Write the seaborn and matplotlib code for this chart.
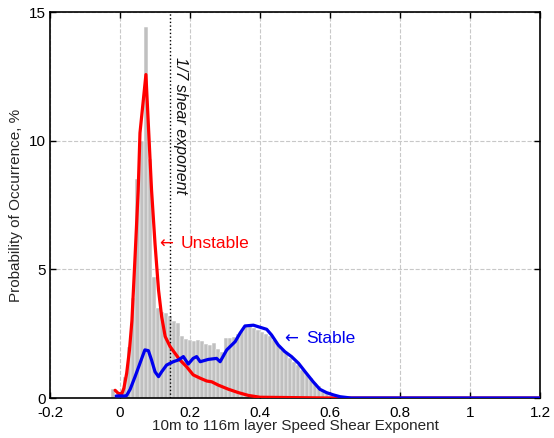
import numpy as np
import pandas as pd
import matplotlib
matplotlib.use("Agg")
import matplotlib.pyplot as plt
import seaborn as sns

# === Data ===
hist_heights = [0.35, 0.1, 0.2, 0.8, 2.0, 3.9, 8.5, 10.0, 14.4, 9.3,
                4.7, 3.5, 3.35, 3.3, 3.2, 3.0, 2.9, 2.4, 2.3, 2.25,
                2.2, 2.25, 2.2, 2.1, 2.05, 2.13, 1.9, 1.8, 2.33, 2.33,
                2.37, 2.5, 2.6, 2.84, 2.84, 2.72, 2.65, 2.58, 2.5, 2.4,
                2.26, 2.06, 1.87, 1.75, 1.56, 1.41, 1.28, 1.1, 0.95, 0.78,
                0.6, 0.45, 0.33, 0.22, 0.1]
BIN_START = -0.0248
BIN_WIDTH = 0.0115

unstable_x = [-0.014, -0.005, 0.005, 0.011, 0.019, 0.027, 0.034, 0.043, 0.052, 0.057,
              0.074, 0.09, 0.1, 0.11, 0.119, 0.129, 0.143, 0.157, 0.171, 0.19,
              0.209, 0.229, 0.248, 0.262, 0.281, 0.31, 0.338, 0.367, 0.4, 0.6, 1.2]
unstable_y = [0.3, 0.18, 0.16, 0.38, 0.96, 1.87, 3.0, 5.5, 8.1, 10.3,
              12.57, 8.1, 6.0, 4.2, 3.16, 2.39, 2.0, 1.74, 1.48, 1.22,
              0.9, 0.77, 0.66, 0.63, 0.5, 0.34, 0.21, 0.1, 0.03, 0.0, 0.0]

stable_x = [-0.011, 0.014, 0.019, 0.029, 0.043, 0.057, 0.071, 0.081, 0.09, 0.1,
            0.11, 0.119, 0.133, 0.152, 0.167, 0.181, 0.195, 0.209, 0.219, 0.229,
            0.252, 0.276, 0.286, 0.305, 0.329, 0.343, 0.357, 0.381, 0.4, 0.419,
            0.433, 0.452, 0.471, 0.49, 0.51, 0.529, 0.552, 0.571, 0.59, 0.61,
            0.629, 0.66, 1.2]
stable_y = [0.08, 0.08, 0.1, 0.34, 0.83, 1.35, 1.87, 1.84, 1.48, 1.02,
            0.83, 1.02, 1.28, 1.41, 1.48, 1.61, 1.32, 1.54, 1.61, 1.41,
            1.5, 1.54, 1.41, 1.87, 2.19, 2.52, 2.8, 2.83, 2.75, 2.67,
            2.45, 2.06, 1.8, 1.61, 1.35, 1.02, 0.63, 0.34, 0.21, 0.12,
            0.05, 0.0, 0.0]

SHEAR_17 = 1 / 7
x_ticks = [-0.2, 0, 0.2, 0.4, 0.6, 0.8, 1, 1.2]
x_ticklabels = ["-0.2", "0", "0.2", "0.4", "0.6", "0.8", "1", "1.2"]
y_ticks = [0, 5, 10, 15]

# === Style ===
sns.set_style("ticks")
plt.rcParams["font.family"] = ["Liberation Sans", "DejaVu Sans"]

fig = plt.figure(figsize=(5.54, 4.38), dpi=100)
ax = fig.add_axes([0.0903, 0.0913, 0.8844, 0.8813])

# histogram bars from bin centres + heights
edges = BIN_START + BIN_WIDTH * np.arange(len(hist_heights) + 1)
df_hist = pd.DataFrame({"center": (edges[:-1] + edges[1:]) / 2, "height": hist_heights})
sns.histplot(data=df_hist, x="center", weights="height", bins=edges.tolist(),
             color="#c0c0c0", edgecolor="white", linewidth=0.35, alpha=1, ax=ax, zorder=2)

sns.lineplot(x=unstable_x, y=unstable_y, color="#ff0000", lw=2.3, sort=False,
             estimator=None, ax=ax, zorder=4)
sns.lineplot(x=stable_x, y=stable_y, color="#0000ee", lw=2.3, sort=False,
             estimator=None, ax=ax, zorder=5)

ax.axvline(SHEAR_17, color="black", ls=":", lw=1.0, zorder=3)

ax.text(0.172, 13.25, "1/7 shear exponent", rotation=-90, ha="center", va="top",
        fontsize=11.5, style="italic", color="#111111")

# labels: arrow glyph from DejaVu (longer shaft), word in Liberation Sans
for arrow_x, word_x, y, word, col in [(0.111, 0.1734, 6.0, "Unstable", "#ff0000"),
                                      (0.468, 0.5314, 2.3, "Stable", "#0000ee")]:
    ax.text(arrow_x, y, "\u2190", color=col, fontsize=12, va="center", ha="left",
            family=["DejaVu Sans"])
    ax.text(word_x, y, word, color=col, fontsize=12.5, va="center", ha="left")

# === Axes ===
ax.set_xlim(-0.2, 1.2)
ax.set_ylim(0, 15)
ax.set_xticks(x_ticks)
ax.set_xticklabels(x_ticklabels)
ax.set_yticks(y_ticks)
ax.grid(True, ls="--", color="#c8c8c8", lw=0.8, zorder=0)
ax.set_axisbelow(True)
ax.tick_params(direction="in", top=True, right=True, length=4, width=1,
               labelsize=11, colors="black")
ax.tick_params(axis="x", pad=6)
ax.tick_params(axis="y", pad=3)
for s in ax.spines.values():
    s.set_color("black")
    s.set_linewidth(1.2)
ax.set_xlabel("10m to 116m layer Speed Shear Exponent", fontsize=11, labelpad=-1)
ax.set_ylabel("Probability of Occurrence, %", fontsize=11, labelpad=4)

fig.savefig("out.png", dpi=100)
plt.close(fig)
